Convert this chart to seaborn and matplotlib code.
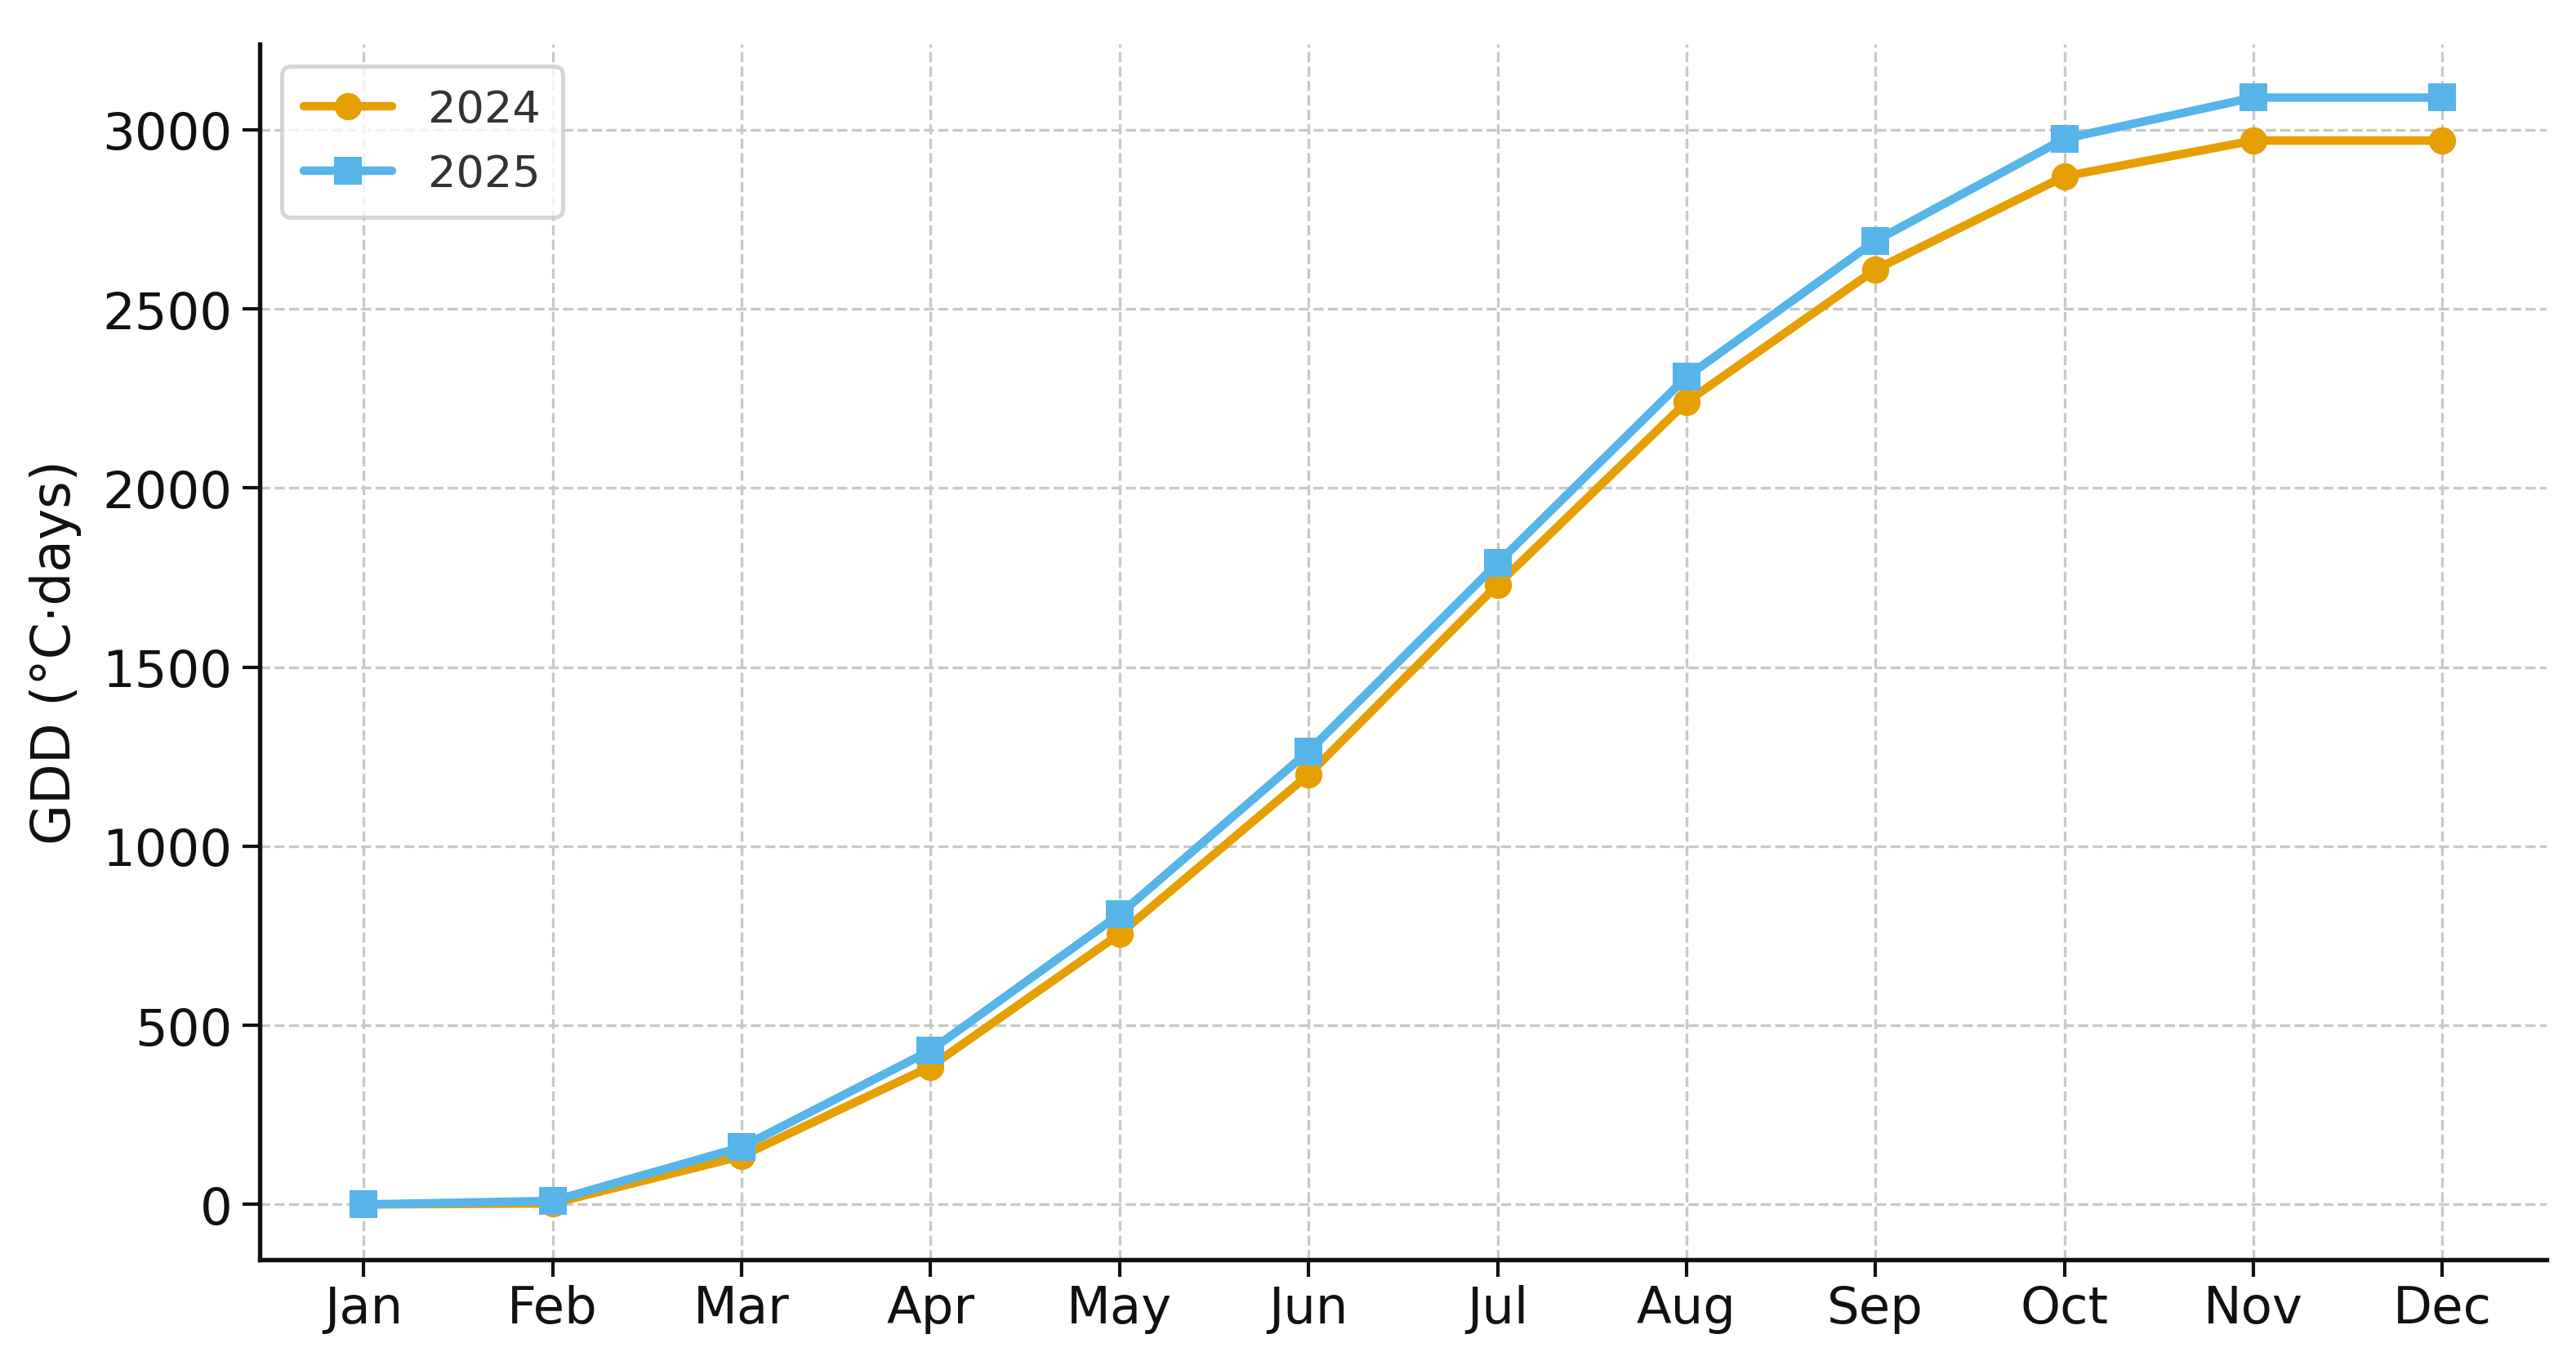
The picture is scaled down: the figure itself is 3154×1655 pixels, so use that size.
import matplotlib
matplotlib.use("Agg")
import matplotlib.pyplot as plt
import seaborn as sns
import pandas as pd

months = ["Jan", "Feb", "Mar", "Apr", "May", "Jun", "Jul", "Aug", "Sep", "Oct", "Nov", "Dec"]
gdd_2024 = [0, 3, 135, 385, 755, 1200, 1730, 2240, 2610, 2870, 2970, 2970]
gdd_2025 = [0, 10, 160, 430, 810, 1265, 1790, 2310, 2690, 2975, 3090, 3090]
years = ["2024", "2025"]
colors = ["#E69F00", "#56B4E9"]
markers = ["o", "s"]

df = pd.DataFrame({
    "Month": months * 2,
    "GDD": gdd_2024 + gdd_2025,
    "Year": [years[0]] * 12 + [years[1]] * 12,
})

sns.set_theme(style="ticks")
plt.rcParams["font.family"] = ["DejaVu Sans"]

fig = plt.figure(figsize=(3154 / 300, 1656 / 300), dpi=300)
ax = fig.add_axes([0.1008, 0.068, 0.8877, 0.899])

sns.lineplot(data=df, x="Month", y="GDD", hue="Year", style="Year",
             palette=dict(zip(years, colors)), markers=dict(zip(years, markers)),
             dashes=False, linewidth=2.5, markersize=8, markeredgewidth=0,
             sort=False, ax=ax)

ax.grid(True, linestyle="--", linewidth=0.8, color="#c8c8c8")
ax.set_axisbelow(True)
sns.despine(ax=ax)
for s in ["left", "bottom"]:
    ax.spines[s].set_linewidth(1.3)
    ax.spines[s].set_color("#111111")
ax.tick_params(axis="both", labelsize=15, length=5, width=1,
               color="#111111", labelcolor="#111111")
ax.tick_params(axis="y", pad=3)
ax.tick_params(axis="x", pad=2)
ax.set_xlabel("")
ax.set_ylabel("GDD (°C·days)", fontsize=15.5, color="#111111", labelpad=6)
ax.set_yticks([0, 500, 1000, 1500, 2000, 2500, 3000])
ax.set_xlim(-0.55, 11.55)
ax.set_ylim(-155, 3240)

leg = ax.legend(loc="upper left", fontsize=13, frameon=True, fancybox=True,
                handlelength=2.0, borderpad=0.5, labelspacing=0.5)
leg.get_frame().set_edgecolor("#cccccc")
leg.get_frame().set_linewidth(1.2)
for t in leg.get_texts():
    t.set_color("#333333")

fig.savefig("out.png", dpi=300)
